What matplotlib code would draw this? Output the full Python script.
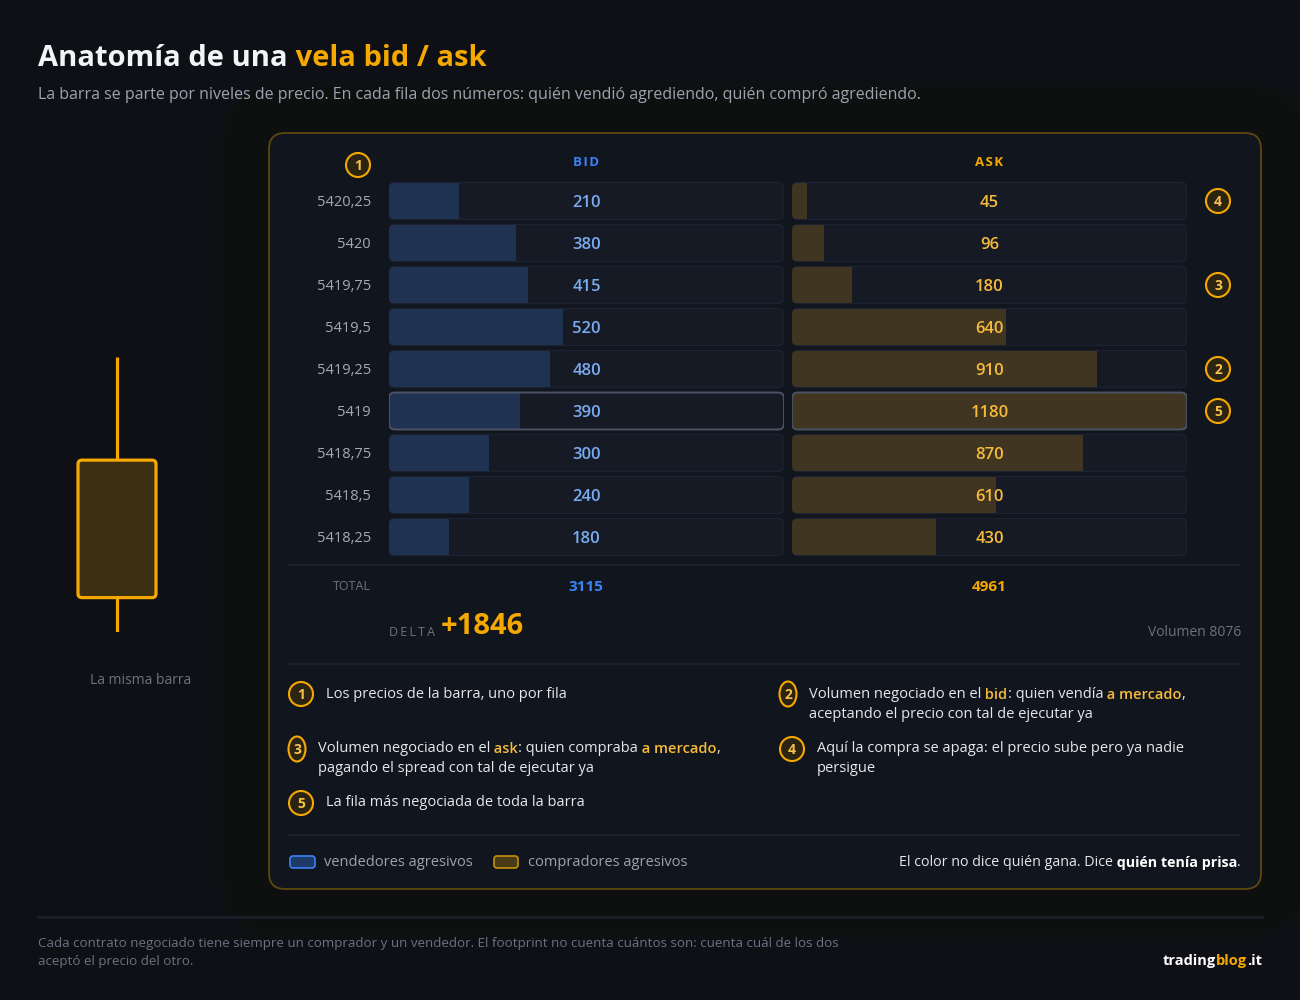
import matplotlib.pyplot as plt
from matplotlib.patches import FancyBboxPatch, Circle, Ellipse

W, H = 1300, 1000
FONT = ["Open Sans", "DejaVu Sans"]
plt.rcParams["font.family"] = FONT

# datos de la vela (niveles de precio, volumen en bid y en ask)
prices = [5420.25, 5420.0, 5419.75, 5419.5, 5419.25, 5419.0, 5418.75, 5418.5, 5418.25]
bid = [210, 380, 415, 520, 480, 390, 300, 240, 180]
ask = [45, 96, 180, 640, 910, 1180, 870, 610, 430]
highlight_row = 5
row_markers = {0: "4", 2: "3", 4: "2", 5: "5"}
candle_open, candle_close = 5418.375, 5419.875
candle_high, candle_low = 5421.0, 5418.0

BG = "#0e1016"
PANEL = "#11151e"
ROW_BG = "#161a25"
ROW_EDGE = "#1d2230"
BID_FILL = "#1f3252"
ASK_FILL = "#403520"
GOLD = "#f5a800"
GOLD_TXT = "#f7bb3a"
BLUE = "#3b82f6"
BLUE_TXT = "#79acf2"
GREY = "#6b7280"
LIGHT = "#e5e7eb"

fig = plt.figure(figsize=(13, 10), dpi=100)
fig.patch.set_facecolor(BG)
ax = fig.add_axes([0, 0, 1, 1])
ax.set_xlim(0, W)
ax.set_ylim(H, 0)
ax.axis("off")
renderer = fig.canvas.get_renderer()


def px_rect(x0, y0, x1, y1):
    return [x0 / W, 1 - y1 / H, (x1 - x0) / W, (y1 - y0) / H]


def rich(x, y, parts, size, ha="left"):
    objs = []
    cur = x
    for s, c, w in parts:
        t = ax.text(cur, y, s, color=c, fontsize=size, fontweight=w,
                    ha="left", va="center", zorder=5)
        cur += t.get_window_extent(renderer=renderer).width
        objs.append(t)
    if ha == "right":
        shift = cur - x
        for t in objs:
            t.set_x(t.get_position()[0] - shift)


def rbox(x, y, w, h, r, **kw):
    p = FancyBboxPatch((x, y), w, h, boxstyle=f"round,pad=0,rounding_size={r}", **kw)
    ax.add_patch(p)
    return p


def marker(x, y, num, narrow=False):
    if narrow:
        m = Ellipse((x, y), 17, 25, facecolor="#2b2412", edgecolor=GOLD, lw=1.5, zorder=4)
    else:
        m = Circle((x, y), 12, facecolor="#2b2412", edgecolor=GOLD, lw=1.5, zorder=4)
    ax.add_patch(m)
    ax.text(x, y + 1, num, color="#f7c24a", fontsize=10, fontweight="bold",
            ha="center", va="center", zorder=5)


# titulo
rich(38, 58, [("Anatomía de una", "#f3f4f6", "bold"), (" vela bid / ask", GOLD, "bold")], 21)
ax.text(38, 95, "La barra se parte por niveles de precio. En cada fila dos números: "
        "quién vendió agrediendo, quién compró agrediendo.",
        color="#9ca3af", fontsize=11.5, va="center")

# panel con brillo suave
px0, py0, px1, py1 = 269, 133, 1261, 889
for k in range(1, 36):
    d = 1.5 * k
    rbox(px0 - d, py0 - d, px1 - px0 + 2 * d, py1 - py0 + 2 * d, 16 + d,
         facecolor="#c98a10", alpha=0.0028, edgecolor="none", zorder=1)
rbox(px0, py0, px1 - px0, py1 - py0, 16, facecolor=PANEL, edgecolor="#5e4812",
     lw=1.3, zorder=2)

# cabeceras
marker(358, 165, "1")
ax.text(586, 163, "B\u200aI\u200aD", color=BLUE, fontsize=9.5, fontweight="bold",
        ha="center", va="center", zorder=5)
ax.text(989, 163, "A\u200aS\u200aK", color=GOLD, fontsize=9.5, fontweight="bold",
        ha="center", va="center", zorder=5)

XMAX = max(max(bid), max(ask))
row_px = 42
sx = XMAX / 395
sy = 1 / row_px


def side_axes(x0, values, fill, txt_color):
    a = fig.add_axes(px_rect(x0, 180, x0 + 395, 180 + row_px * len(values)))
    a.set_xlim(0, XMAX)
    a.set_ylim(len(values) - 0.5, -0.5)
    a.axis("off")
    a.patch.set_alpha(0)
    for i, v in enumerate(values):
        bg = FancyBboxPatch((0, i - 0.44), XMAX, 0.88,
                            boxstyle=f"round,pad=0,rounding_size={6 * sx}",
                            mutation_aspect=sy / sx, facecolor=ROW_BG,
                            edgecolor=ROW_EDGE, lw=1.0, zorder=1)
        a.add_patch(bg)
        bars = a.barh(i, v, height=0.88, color=fill, zorder=2)
        bars[0].set_clip_path(bg)
        if i == highlight_row:
            edge = FancyBboxPatch((0, i - 0.44), XMAX, 0.88,
                                  boxstyle=f"round,pad=0,rounding_size={6 * sx}",
                                  mutation_aspect=sy / sx, facecolor="none",
                                  edgecolor="#4b5263", lw=1.4, zorder=3)
            a.add_patch(edge)
        a.text(XMAX / 2, i + 2 * sy, str(v), color=txt_color, fontsize=12,
               fontweight="semibold", ha="center", va="center", zorder=4)
    return a


side_axes(389, bid, BID_FILL, BLUE_TXT)
side_axes(792, ask, ASK_FILL, GOLD_TXT)

for i, p in enumerate(prices):
    y = 201 + row_px * i
    ax.text(371, y + 1.5, f"{p:g}".replace(".", ","), color="#a3aab6", fontsize=10.5,
            ha="right", va="center", zorder=5)
    if i in row_markers:
        marker(1218, y, row_markers[i])

# totales
ax.plot([288, 1240], [565, 565], color="#1e2330", lw=1.2, zorder=3)
ax.text(371, 587, "TOTAL", color=GREY, fontsize=9, ha="right", va="center", zorder=5)
ax.text(586, 587, str(sum(bid)), color=BLUE, fontsize=11, fontweight="bold",
        ha="center", va="center", zorder=5)
ax.text(989, 587, str(sum(ask)), color=GOLD, fontsize=11, fontweight="bold",
        ha="center", va="center", zorder=5)
ax.text(389, 633, "D\u2009E\u2009L\u2009T\u2009A", color=GREY, fontsize=9, ha="left",
        va="center", zorder=5)
ax.text(441, 627, f"{sum(ask) - sum(bid):+d}", color=GOLD, fontsize=21, fontweight="bold",
        ha="left", va="center", zorder=5)
ax.text(1241, 633, f"Volumen {sum(bid) + sum(ask)}", color=GREY, fontsize=10,
        ha="right", va="center", zorder=5)
ax.plot([288, 1240], [664, 664], color="#1e2330", lw=1.2, zorder=3)

# notas
W_ = "normal"
NS = 10.5
marker(301, 694, "1")
rich(326, 695, [("Los precios de la barra, uno por fila", LIGHT, W_)], NS)
marker(788, 694, "2", narrow=True)
rich(809, 695, [("Volumen negociado en el", LIGHT, W_), (" bid", GOLD_TXT, "semibold"),
                (": quien vendía", LIGHT, W_), (" a mercado", GOLD_TXT, "semibold"),
                (",", LIGHT, W_)], NS)
rich(809, 715, [("aceptando el precio con tal de ejecutar ya", LIGHT, W_)], NS)
marker(297, 749, "3", narrow=True)
rich(318, 749, [("Volumen negociado en el", LIGHT, W_), (" ask", GOLD_TXT, "semibold"),
                (": quien compraba", LIGHT, W_), (" a mercado", GOLD_TXT, "semibold"),
                (",", LIGHT, W_)], NS)
rich(318, 769, [("pagando el spread con tal de ejecutar ya", LIGHT, W_)], NS)
marker(792, 749, "4")
rich(817, 749, [("Aquí la compra se apaga: el precio sube pero ya nadie", LIGHT, W_)], NS)
rich(817, 769, [("persigue", LIGHT, W_)], NS)
marker(301, 803, "5")
rich(326, 803, [("La fila más negociada de toda la barra", LIGHT, W_)], NS)
ax.plot([288, 1240], [835, 835], color="#1e2330", lw=1.2, zorder=3)

# leyenda
rbox(290, 856, 25, 12, 3, facecolor="#1e3a66", edgecolor=BLUE, lw=1.2, zorder=4)
ax.text(324, 863, "vendedores agresivos", color="#9ca3af", fontsize=10.5, va="center", zorder=5)
rbox(494, 856, 24, 12, 3, facecolor="#4a3a15", edgecolor="#c8900a", lw=1.2, zorder=4)
ax.text(528, 863, "compradores agresivos", color="#9ca3af", fontsize=10.5, va="center", zorder=5)
rich(1241, 863, [("El color no dice quién gana. Dice", LIGHT, W_),
                 (" quién tenía prisa", "#ffffff", "bold"), (".", LIGHT, W_)], 10.3, ha="right")

# vela simplificada
cax = fig.add_axes(px_rect(78, 357, 156, 632))
cax.set_xlim(0, 1)
cax.set_ylim(candle_low, candle_high)
cax.axis("off")
cax.patch.set_alpha(0)
cax.vlines(0.5, candle_low, candle_open, color=GOLD, lw=2.3)
cax.vlines(0.5, candle_close, candle_high, color=GOLD, lw=2.3)
cy = (candle_high - candle_low) / 275
cxu = 1 / 78
body = FancyBboxPatch((0, candle_open), 1, candle_close - candle_open,
                      boxstyle=f"round,pad=0,rounding_size={4 * cxu}",
                      mutation_aspect=cy / cxu, facecolor="#3d3012", edgecolor=GOLD,
                      lw=2.3, clip_on=False, zorder=3)
cax.add_patch(body)
ax.text(141, 680, "La misma barra", color=GREY, fontsize=10, ha="center", va="center")

# pie
ax.plot([38, 1262], [917, 917], color="#1a1f29", lw=2)
ax.text(38, 943, "Cada contrato negociado tiene siempre un comprador y un vendedor. El footprint "
        "no cuenta cuántos son: cuenta cuál de los dos", color=GREY, fontsize=9.6, va="center")
ax.text(38, 962, "aceptó el precio del otro.", color=GREY, fontsize=9.6, va="center")
rich(1262, 961, [("trading", "#ffffff", "bold"), ("blog", GOLD, "bold"), (".it", "#ffffff", "bold")],
     10.5, ha="right")

fig.savefig("out.png", dpi=100, facecolor=BG)
